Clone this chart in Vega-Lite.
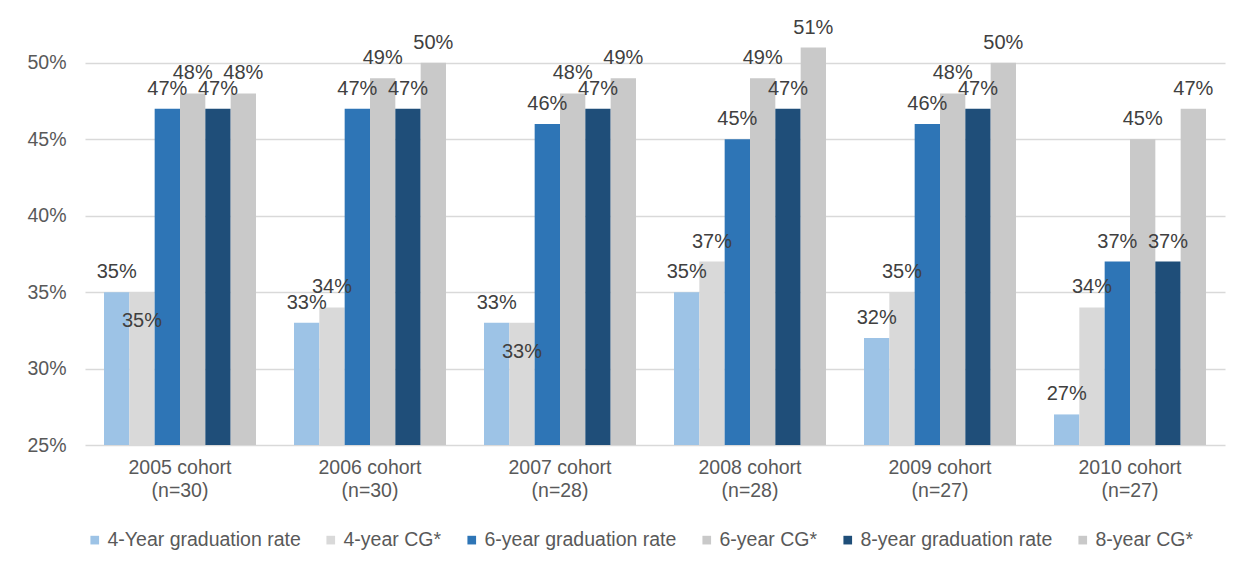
{
  "$schema": "https://vega.github.io/schema/vega-lite/v6.json",
  "width": 1140,
  "height": 428,
  "autosize": {"type": "none"},
  "padding": {"left": 85, "top": 17, "right": 26, "bottom": 132},
  "background": "white",
  "data": {"values": [
    {"cohort": "2005 cohort (n=30)", "series": "4-Year graduation rate", "rate": 0.35},
    {"cohort": "2005 cohort (n=30)", "series": "4-year CG*", "rate": 0.35},
    {"cohort": "2005 cohort (n=30)", "series": "6-year graduation rate", "rate": 0.47},
    {"cohort": "2005 cohort (n=30)", "series": "6-year CG*", "rate": 0.48},
    {"cohort": "2005 cohort (n=30)", "series": "8-year graduation rate", "rate": 0.47},
    {"cohort": "2005 cohort (n=30)", "series": "8-year CG* ", "rate": 0.48},
    {"cohort": "2006 cohort (n=30)", "series": "4-Year graduation rate", "rate": 0.33},
    {"cohort": "2006 cohort (n=30)", "series": "4-year CG*", "rate": 0.34},
    {"cohort": "2006 cohort (n=30)", "series": "6-year graduation rate", "rate": 0.47},
    {"cohort": "2006 cohort (n=30)", "series": "6-year CG*", "rate": 0.49},
    {"cohort": "2006 cohort (n=30)", "series": "8-year graduation rate", "rate": 0.47},
    {"cohort": "2006 cohort (n=30)", "series": "8-year CG* ", "rate": 0.50},
    {"cohort": "2007 cohort (n=28)", "series": "4-Year graduation rate", "rate": 0.33},
    {"cohort": "2007 cohort (n=28)", "series": "4-year CG*", "rate": 0.33},
    {"cohort": "2007 cohort (n=28)", "series": "6-year graduation rate", "rate": 0.46},
    {"cohort": "2007 cohort (n=28)", "series": "6-year CG*", "rate": 0.48},
    {"cohort": "2007 cohort (n=28)", "series": "8-year graduation rate", "rate": 0.47},
    {"cohort": "2007 cohort (n=28)", "series": "8-year CG* ", "rate": 0.49},
    {"cohort": "2008 cohort (n=28)", "series": "4-Year graduation rate", "rate": 0.35},
    {"cohort": "2008 cohort (n=28)", "series": "4-year CG*", "rate": 0.37},
    {"cohort": "2008 cohort (n=28)", "series": "6-year graduation rate", "rate": 0.45},
    {"cohort": "2008 cohort (n=28)", "series": "6-year CG*", "rate": 0.49},
    {"cohort": "2008 cohort (n=28)", "series": "8-year graduation rate", "rate": 0.47},
    {"cohort": "2008 cohort (n=28)", "series": "8-year CG* ", "rate": 0.51},
    {"cohort": "2009 cohort (n=27)", "series": "4-Year graduation rate", "rate": 0.32},
    {"cohort": "2009 cohort (n=27)", "series": "4-year CG*", "rate": 0.35},
    {"cohort": "2009 cohort (n=27)", "series": "6-year graduation rate", "rate": 0.46},
    {"cohort": "2009 cohort (n=27)", "series": "6-year CG*", "rate": 0.48},
    {"cohort": "2009 cohort (n=27)", "series": "8-year graduation rate", "rate": 0.47},
    {"cohort": "2009 cohort (n=27)", "series": "8-year CG* ", "rate": 0.50},
    {"cohort": "2010 cohort (n=27)", "series": "4-Year graduation rate", "rate": 0.27},
    {"cohort": "2010 cohort (n=27)", "series": "4-year CG*", "rate": 0.34},
    {"cohort": "2010 cohort (n=27)", "series": "6-year graduation rate", "rate": 0.37},
    {"cohort": "2010 cohort (n=27)", "series": "6-year CG*", "rate": 0.45},
    {"cohort": "2010 cohort (n=27)", "series": "8-year graduation rate", "rate": 0.37},
    {"cohort": "2010 cohort (n=27)", "series": "8-year CG* ", "rate": 0.47}
  ]},
  "encoding": {
    "x": {
      "field": "cohort", "type": "nominal", "title": null,
      "scale": {"paddingInner": 0.2, "paddingOuter": 0.1},
      "axis": {
        "labelAngle": 0, "ticks": false, "domain": false,
        "labelExpr": "[slice(datum.label, 0, 11), slice(datum.label, 12)]",
        "labelFont": "Liberation Sans", "labelFontSize": 19.5, "labelColor": "#595959",
        "labelPadding": 13, "labelLineHeight": 23
      }
    },
    "xOffset": {
      "field": "series", "type": "nominal",
      "sort": ["4-Year graduation rate", "4-year CG*", "6-year graduation rate", "6-year CG*", "8-year graduation rate", "8-year CG* "],
      "scale": {"paddingInner": 0, "paddingOuter": 0}
    },
    "y": {
      "field": "rate", "type": "quantitative", "title": null,
      "scale": {"domain": [0.25, 0.53], "zero": false, "nice": false},
      "axis": {
        "values": [0.25, 0.30, 0.35, 0.40, 0.45, 0.50],
        "format": ".0%",
        "domain": false, "ticks": false,
        "gridColor": "#D9D9D9", "gridWidth": 1.5,
        "labelFont": "Liberation Sans", "labelFontSize": 19.5, "labelColor": "#595959",
        "labelPadding": 19
      }
    }
  },
  "layer": [
    {
      "mark": {"type": "bar"},
      "encoding": {
        "y2": {"datum": 0.25},
        "color": {
          "field": "series", "type": "nominal", "title": null,
          "scale": {
            "domain": ["4-Year graduation rate", "4-year CG*", "6-year graduation rate", "6-year CG*", "8-year graduation rate", "8-year CG* "],
            "range": ["#9DC3E6", "#D9D9D9", "#2E75B6", "#C9C9C9", "#1F4E79", "#C9C9C9"]
          },
          "legend": {
            "orient": "bottom", "direction": "horizontal", "columns": 6,
            "symbolType": "square", "symbolSize": 75, "symbolStrokeWidth": 0,
            "labelFont": "Liberation Sans", "labelFontSize": 19.5, "labelColor": "#595959",
            "labelLimit": 400,
            "columnPadding": 20, "labelOffset": 3, "offset": 30, "padding": 0
          }
        }
      }
    },
    {
      "transform": [{"filter": "!(datum.series == '4-year CG*' && (datum.cohort == '2005 cohort (n=30)' || datum.cohort == '2007 cohort (n=28)'))"}],
      "mark": {"type": "text", "baseline": "alphabetic", "dy": -14, "font": "Liberation Sans", "fontSize": 20, "color": "#404040"},
      "encoding": {
        "text": {"field": "rate", "type": "quantitative", "format": ".0%"}
      }
    },
    {
      "transform": [{"filter": "datum.series == '4-year CG*' && (datum.cohort == '2005 cohort (n=30)' || datum.cohort == '2007 cohort (n=28)')"}],
      "mark": {"type": "text", "baseline": "alphabetic", "dy": 35, "font": "Liberation Sans", "fontSize": 20, "color": "#404040"},
      "encoding": {
        "text": {"field": "rate", "type": "quantitative", "format": ".0%"}
      }
    }
  ],
  "config": {"view": {"stroke": null}}
}
